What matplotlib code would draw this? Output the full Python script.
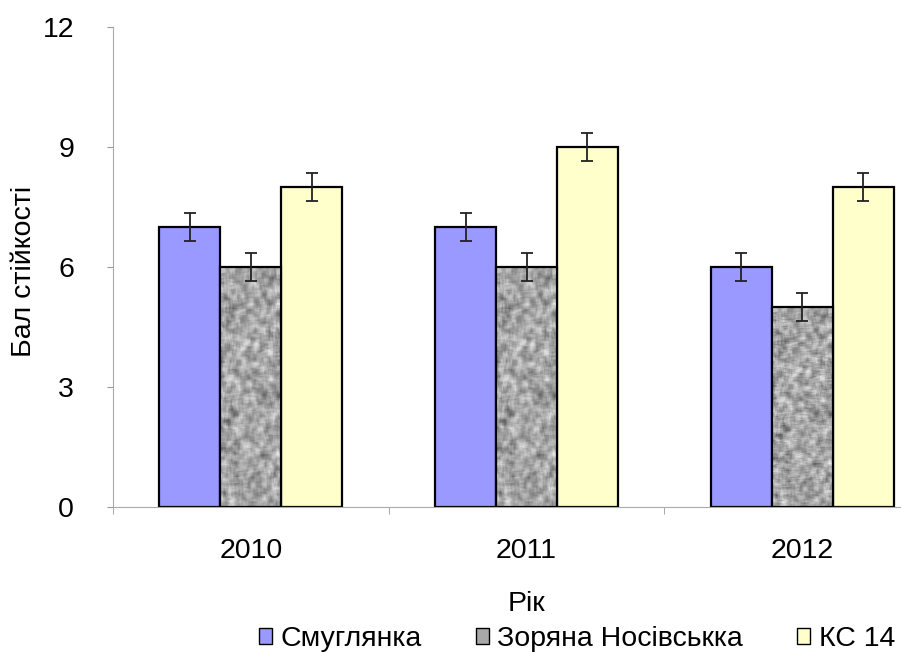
import numpy as np
import matplotlib
matplotlib.use("Agg")
import matplotlib.pyplot as plt
from matplotlib.patches import Patch
from numpy.lib.stride_tricks import sliding_window_view

years = ["2010", "2011", "2012"]
series = ["Смуглянка", "Зоряна Носівськка", "КС 14"]
smuglyanka = [7, 7, 6]
zoryana = [6, 6, 5]
ks14 = [8, 9, 8]
errors = [0.35, 0.35, 0.35]
yticks = [0, 3, 6, 9, 12]

plt.rcParams['font.family'] = ['Liberation Sans', 'DejaVu Sans']
FS = 20.5

fig = plt.figure(figsize=(9.01, 6.52), dpi=100)
ax = fig.add_axes([113/901, 1-507/652, (940-113)/901, (507-27)/652])

x = np.arange(len(years))
w = 0.221
colors = ['#9999FF', '#C0C0C0', '#FFFFCC']
vals = [smuglyanka, zoryana, ks14]

# texture for gray series
rng = np.random.default_rng(3)
noise = rng.random((200, 60))
pad = np.pad(noise, 2, mode='wrap')
sm = sliding_window_view(pad, (5, 5)).mean(axis=(2, 3))
sm = (sm - sm.min()) / (sm.max() - sm.min())
tex = 0.35 + 0.6 * sm

for i, (v, c) in enumerate(zip(vals, colors)):
    pos = x + (i - 1) * w
    bars = ax.bar(pos, v, width=w, color=c, edgecolor='black', linewidth=1.6, zorder=2)
    if i == 1:
        for b in bars:
            x0 = b.get_x()
            im = ax.imshow(tex, cmap='gray', vmin=0, vmax=1, aspect='auto',
                           extent=[x0, x0 + b.get_width(), 0, b.get_height()],
                           zorder=2.5, interpolation='bilinear')
            im.set_clip_path(b)
            b.set_facecolor('none')
            b.set_zorder(3)
    ax.errorbar(pos, v, yerr=errors, fmt='none', ecolor='#222222', elinewidth=1.3,
                capsize=4, capthick=1.3, zorder=4)

ax.set_xlim(-0.5, 2.5)
ax.set_ylim(0, 12)
ax.set_yticks(yticks)
ax.set_xticks(x)
ax.set_xticklabels(years)
ax.set_xticks([-0.5, 0.5, 1.5, 2.5], minor=True)
ax.tick_params(axis='x', which='major', length=0, labelsize=FS, pad=22)
ax.tick_params(axis='x', which='minor', length=5, color='#999999')
ax.tick_params(axis='y', length=4, color='#999999', labelsize=FS, pad=24)
for s in ['top', 'right']:
    ax.spines[s].set_visible(False)
ax.spines['left'].set_color('#AAAAAA')
ax.spines['bottom'].set_color('#AAAAAA')

fig.text(24/901, 1-271/652, 'Бал стійкості', fontsize=FS, rotation=90,
         ha='center', va='center')
fig.text(526/901, 1-604/652, 'Рік', fontsize=FS, ha='center', va='center')

handles = [Patch(facecolor=colors[0], edgecolor='black'),
           Patch(facecolor='#A8A8A8', edgecolor='black'),
           Patch(facecolor=colors[2], edgecolor='black')]
fig.legend(handles, series, loc='center', bbox_to_anchor=(577/901, 1-639/652),
           ncol=3, frameon=False, fontsize=FS, handlelength=0.46, handleheight=0.46,
           handletextpad=0.3, columnspacing=1.9, borderaxespad=0)

fig.savefig('out.png', dpi=100)
